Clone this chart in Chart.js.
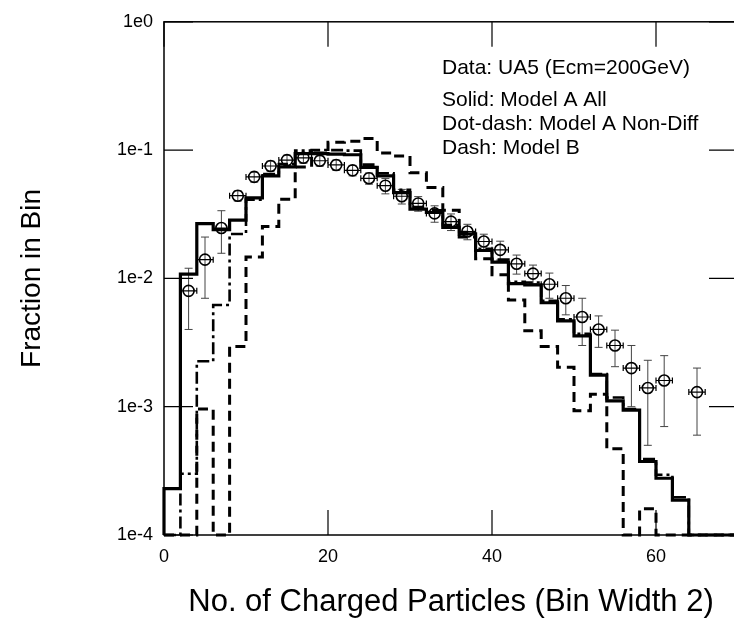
<!DOCTYPE html>
<html><head><meta charset="utf-8">
<script src="https://cdn.jsdelivr.net/npm/chart.js@4/dist/chart.umd.min.js"></script>
<style>
html,body{margin:0;padding:0;overflow:hidden;background:#fff;width:734px;height:619px}
#wrap{position:absolute;left:0;top:0;width:760px;height:619px}
</style>
</head><body><div id="wrap"><canvas id="c" width="760" height="619"></canvas></div>
<script>
// ---- data ----
const binLows = [0,2,4,6,8,10,12,14,16,18,20,22,24,26,28,30,32,34,36,38,40,42,44,46,48,50,52,54,56,58,60,62,64,66,68];
const binWidth = 2;
const modelAAll = [0.00023,0.0108,0.0267,0.024,0.0285,0.0425,0.063,0.074,0.094,0.094,0.093,0.092,0.0733,0.0629,0.0467,0.0347,0.0327,0.025,0.0222,0.0165,0.0134,0.0091,0.0089,0.00646,0.00467,0.00357,0.00176,0.00111,0.00094,0.000374,0.000277,0.000187,0,0,0];
const modelANonDiff = [0,0.0003,0.00226,0.0062,0.0222,0.041,0.065,0.078,0.099,0.1,0.1,0.099,0.077,0.066,0.049,0.036,0.034,0.026,0.023,0.017,0.014,0.0094,0.0093,0.0067,0.0048,0.0037,0.0018,0.00118,0.00096,0.00039,0.000295,0.000197,0,0,0];
const modelB = [0,0,0.00096,0,0.00295,0.0147,0.0254,0.0414,0.074,0.095,0.115,0.117,0.123,0.095,0.09,0.0667,0.051,0.034,0.021,0.0142,0.0107,0.0068,0.0039,0.00295,0.00203,0.00093,0.00125,0.00047,0,0.00016,0,0,0,0,0];
const dataX = [3,5,7,9,11,13,15,17,19,21,23,25,27,29,31,33,35,37,39,41,43,45,47,49,51,53,55,57,59,61,65];
const dataY = [0.008,0.014,0.0247,0.0441,0.0618,0.0752,0.0836,0.0871,0.0826,0.0766,0.0695,0.0603,0.0528,0.0437,0.0384,0.0321,0.0277,0.0232,0.0194,0.0167,0.013,0.0109,0.009,0.007,0.005,0.004,0.003,0.002,0.0014,0.0016,0.0013];
const dataErr = [0.004,0.007,0.009,0.004,0.0055,0.0068,0.0076,0.008,0.0076,0.007,0.0065,0.006,0.0072,0.0057,0.005,0.0047,0.0041,0.0032,0.0027,0.0028,0.0022,0.0018,0.002,0.0018,0.002,0.0011,0.00095,0.001,0.0009,0.0009,0.0007];
const yTickValues = [1e-4,1e-3,1e-2,1e-1,1];
const yTickLabels = ['1e-4','1e-3','1e-2','1e-1','1e0'];
const xTickValues = [0,20,40,60];
const legendLines = ['Data: UA5 (Ecm=200GeV)','Solid: Model A All','Dot-dash: Model A Non-Diff','Dash: Model B'];
const xTitle = 'No. of Charged Particles (Bin Width 2)';
const yTitle = 'Fraction in Bin';

const Y_MIN = 1e-4, Y_MAX = 1, X_MIN = 0, X_MAX = 70;
const FONT = "'Liberation Sans', Arial, Helvetica, sans-serif";

function histPoints(vals){
  const pts = [{x:binLows[0], y:Y_MIN}];
  binLows.forEach((lo,i)=>pts.push({x:lo, y:Math.max(vals[i], Y_MIN)}));
  const last = binLows.length-1;
  pts.push({x:binLows[last]+binWidth, y:Math.max(vals[last], Y_MIN)});
  return pts;
}

const decorPlugin = {
  id:'decor',
  beforeDatasetsDraw(chart){
    const {ctx, scales:{x,y}} = chart;
    ctx.save();
    ctx.lineCap = 'butt';
    dataX.forEach((xv,i)=>{
      const px = x.getPixelForValue(xv), py = y.getPixelForValue(dataY[i]);
      const top = y.getPixelForValue(dataY[i]+dataErr[i]);
      const bot = y.getPixelForValue(Math.max(dataY[i]-dataErr[i], Y_MIN));
      const xl = x.getPixelForValue(xv-1), xr = x.getPixelForValue(xv+1);
      ctx.strokeStyle = '#444'; ctx.lineWidth = 1;
      ctx.beginPath();
      ctx.moveTo(px, top); ctx.lineTo(px, bot);
      ctx.moveTo(px-4, top); ctx.lineTo(px+4, top);
      ctx.moveTo(px-4, bot); ctx.lineTo(px+4, bot);
      ctx.stroke();
      ctx.strokeStyle = '#000'; ctx.lineWidth = 1.2;
      ctx.beginPath();
      ctx.moveTo(xl, py); ctx.lineTo(xr, py);
      ctx.moveTo(xl, py-3); ctx.lineTo(xl, py+3);
      ctx.moveTo(xr, py-3); ctx.lineTo(xr, py+3);
      ctx.stroke();
    });
    ctx.restore();
  },
  afterDraw(chart){
    const {ctx, chartArea:a, scales:{x,y}} = chart;
    ctx.save();
    ctx.strokeStyle = '#000';
    ctx.lineWidth = 1.5;
    ctx.strokeRect(a.left, a.top, a.right-a.left, a.bottom-a.top);
    ctx.lineWidth = 1.2;
    ctx.beginPath();
    yTickValues.forEach(v=>{
      const py = y.getPixelForValue(v);
      ctx.moveTo(a.left, py); ctx.lineTo(a.left+29, py);
      ctx.moveTo(a.right, py); ctx.lineTo(a.right-29, py);
    });
    xTickValues.forEach(v=>{
      const px = x.getPixelForValue(v);
      ctx.moveTo(px, a.bottom); ctx.lineTo(px, a.bottom-25);
      ctx.moveTo(px, a.top); ctx.lineTo(px, a.top+25);
    });
    ctx.stroke();
    ctx.fillStyle = '#000';
    ctx.font = '21px ' + FONT;
    ctx.textAlign = 'left';
    ctx.textBaseline = 'alphabetic';
    const ys = [74, 106, 130, 154];
    legendLines.forEach((t,i)=>ctx.fillText(t, 442, ys[i]));
    ctx.restore();
  }
};

new Chart(document.getElementById('c'), {
  type:'line',
  data:{
    datasets:[
      {label:'Model A All', data:histPoints(modelAAll), stepped:'before', borderColor:'#000', borderWidth:3.2, pointRadius:0, fill:false, clip:false},
      {label:'Model A Non-Diff', data:histPoints(modelANonDiff), stepped:'before', borderColor:'#000', borderWidth:2.6, borderDash:[12,4,3,4], pointRadius:0, fill:false, clip:false},
      {label:'Model B', data:histPoints(modelB), stepped:'before', borderColor:'#000', borderWidth:3, borderDash:[10,6], pointRadius:0, fill:false, clip:false},
      {label:'UA5', type:'scatter', data:dataX.map((xv,i)=>({x:xv, y:dataY[i]})), pointStyle:'circle', pointRadius:5.5, pointBorderWidth:1.6, pointBorderColor:'#000', pointBackgroundColor:'rgba(0,0,0,0)', showLine:false}
    ]
  },
  options:{
    responsive:false, animation:false, devicePixelRatio:1,
    layout:{padding:{left:0,right:22,top:18,bottom:0}},
    plugins:{legend:{display:false}, tooltip:{enabled:false}},
    scales:{
      x:{type:'linear', min:X_MIN, max:X_MAX, position:'bottom',
        grid:{display:false, drawTicks:false}, border:{display:false},
        afterBuildTicks:s=>{ s.ticks = xTickValues.map(v=>({value:v})); },
        afterFit:s=>{ s.height = 84; },
        ticks:{autoSkip:false, maxRotation:0, padding:11, color:'#000', font:{family:FONT, size:18}, callback:v=>String(v)},
        title:{display:true, text:xTitle, color:'#000', font:{family:FONT, size:31}, padding:{top:0,bottom:-2}}
      },
      y:{type:'logarithmic', min:Y_MIN, max:Y_MAX, position:'left',
        grid:{display:false, drawTicks:false}, border:{display:false},
        afterBuildTicks:s=>{ s.ticks = yTickValues.map(v=>({value:v, major:true})); },
        afterFit:s=>{ s.width = 164; },
        ticks:{autoSkip:false, padding:11, color:'#000', font:{family:FONT, size:18}, callback:(v,i)=>yTickLabels[i]},
        title:{display:true, text:yTitle, color:'#000', font:{family:FONT, size:28}, padding:{top:15,bottom:0}}
      }
    }
  },
  plugins:[decorPlugin]
});
</script>
</body></html>
